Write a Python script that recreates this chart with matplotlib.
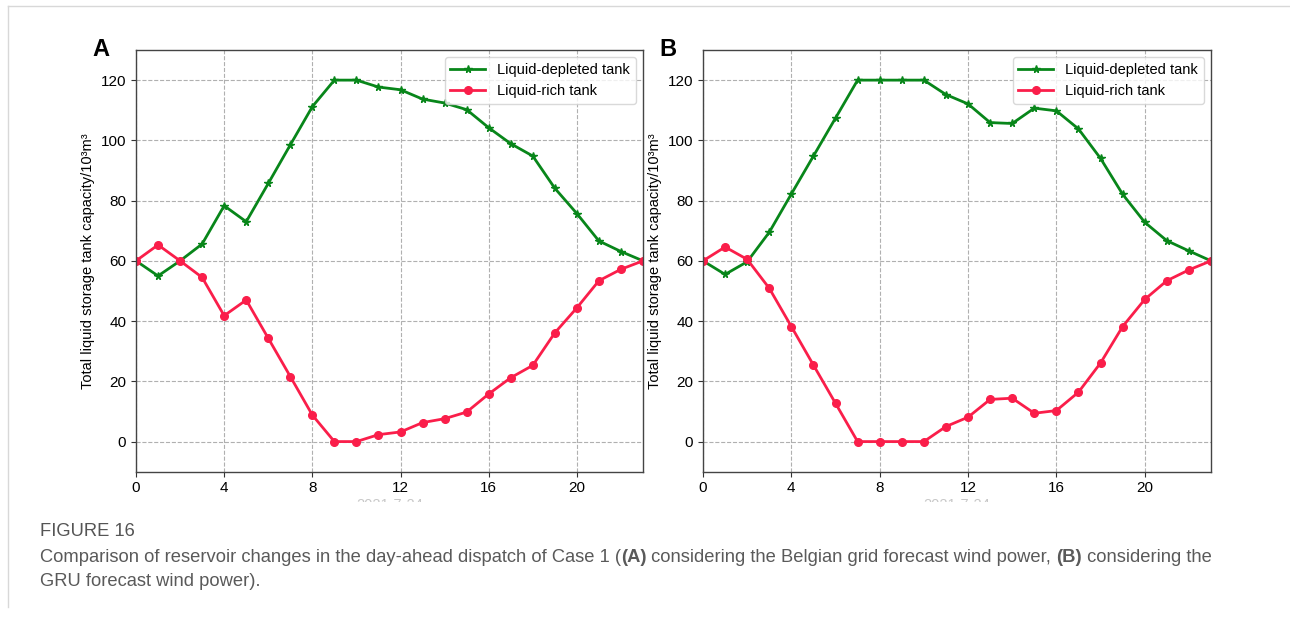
import matplotlib
matplotlib.use("Agg")
import matplotlib.pyplot as plt
from matplotlib.lines import Line2D
from matplotlib.transforms import Bbox

hours = list(range(24))

a_depleted = [60, 55, 60, 65.6, 78.3, 73.0, 85.7, 98.5, 111.2, 120, 120, 117.7,
              116.8, 113.7, 112.4, 110.2, 104.2, 98.9, 94.8, 84.1, 75.7, 66.6, 63.1, 60]
a_rich = [60, 65.3, 60, 54.5, 41.8, 47.0, 34.3, 21.6, 8.8, 0, 0, 2.3,
          3.2, 6.3, 7.6, 9.8, 15.8, 21.2, 25.3, 36.1, 44.4, 53.4, 57.2, 60]

b_depleted = [60, 55.5, 59.7, 69.5, 82.2, 94.8, 107.4, 120, 120, 120, 120, 115.2,
              112.1, 105.9, 105.6, 110.7, 109.8, 103.8, 94.0, 82.1, 72.8, 66.7, 63.3, 60]
b_rich = [60, 64.6, 60.5, 50.9, 38.2, 25.4, 12.7, 0, 0, 0, 0, 5.0,
          8.1, 14.0, 14.4, 9.4, 10.3, 16.4, 26.1, 38.2, 47.2, 53.4, 57.0, 60]

panel_labels = ["A", "B"]
series_names = ["Liquid-depleted tank", "Liquid-rich tank"]
xticks = [0, 4, 8, 12, 16, 20]
yticks = [0, 20, 40, 60, 80, 100, 120]
ylabel = "Total liquid storage tank capacity/10³m³"
hidden_xlabel = "2021-7-24"

W, H = 1290, 617
fig = plt.figure(figsize=(W / 100, H / 100), dpi=100)
plt.rcParams['font.family'] = ['Liberation Sans', 'DejaVu Sans']

GREEN = '#08861a'
RED = '#fa1e4a'

axes_px = [(136, 50, 643, 471.7), (703, 50, 1211, 471.7)]
datasets = [(a_depleted, a_rich), (b_depleted, b_rich)]

for (x0, y0, x1, y1), (dep, rich), lab in zip(axes_px, datasets, panel_labels):
    ax = fig.add_axes([x0 / W, (H - y1) / H, (x1 - x0) / W, (y1 - y0) / H])
    ax.plot(hours, dep, color=GREEN, lw=2, marker='*', ms=5.5, label=series_names[0])
    ax.plot(hours, rich, color=RED, lw=2, marker='o', ms=5.5, label=series_names[1])
    ax.set_xlim(0, 23)
    ax.set_ylim(-10, 130)
    ax.set_xticks(xticks)
    ax.set_yticks(yticks)
    ax.tick_params(labelsize=11, length=3.5, width=0.8, color='#333333')
    ax.grid(True, ls='--', color='#b0b0b0', lw=0.8)
    for s in ax.spines.values():
        s.set_color('#444444')
        s.set_linewidth(1.0)
    ax.set_ylabel(ylabel, fontsize=10.5)
    ax.legend(loc='upper right', fontsize=10.5, framealpha=0.8, edgecolor='#d0d0d0',
              handlelength=2.4)
    fig.text((x0 - 44) / W, (H - 49) / H, lab, fontsize=17, fontweight='bold',
             ha='left', va='center')
    # faint, mostly cut-off x label below tick labels
    t = fig.text((x0 + x1) / 2 / W, (H - 505) / H, hidden_xlabel, fontsize=10.5,
                 color='#c8c8c8', ha='center', va='center')
    t.set_clip_box(Bbox([[x0, H - 502], [x1, H - 497]]))

# page frame lines
fig.add_artist(Line2D([8 / W, 1], [1 - 6 / H, 1 - 6 / H], color='#d8d8d8', lw=1))
fig.add_artist(Line2D([8 / W, 8 / W], [1 - 6 / H, 1 - 607 / H], color='#d8d8d8', lw=1))

cap_font = ['Liberation Sans', 'DejaVu Sans']
CAP_SIZE = 13.2
fig.text(40 / W, 1 - 531 / H, "FIGURE 16", fontsize=CAP_SIZE, color='#555555',
         family=cap_font, va='center', ha='left')

renderer = fig.canvas.get_renderer()


def draw_segments(x_px, y_px, segments):
    x = x_px
    for txt, bold in segments:
        tt = fig.text(x / W, 1 - y_px / H, txt, fontsize=CAP_SIZE, color='#5a5a5a',
                      family=cap_font, fontweight='bold' if bold else 'normal',
                      va='center', ha='left')
        bb = tt.get_window_extent(renderer=renderer)
        x += bb.width


draw_segments(40, 557, [
    ("Comparison of reservoir changes in the day-ahead dispatch of Case 1 (", False),
    ("(A)", True),
    (" considering the Belgian grid forecast wind power, ", False),
    ("(B)", True),
    (" considering the", False),
])
draw_segments(40, 582, [("GRU forecast wind power).", False)])

fig.savefig("out.png", dpi=100)
